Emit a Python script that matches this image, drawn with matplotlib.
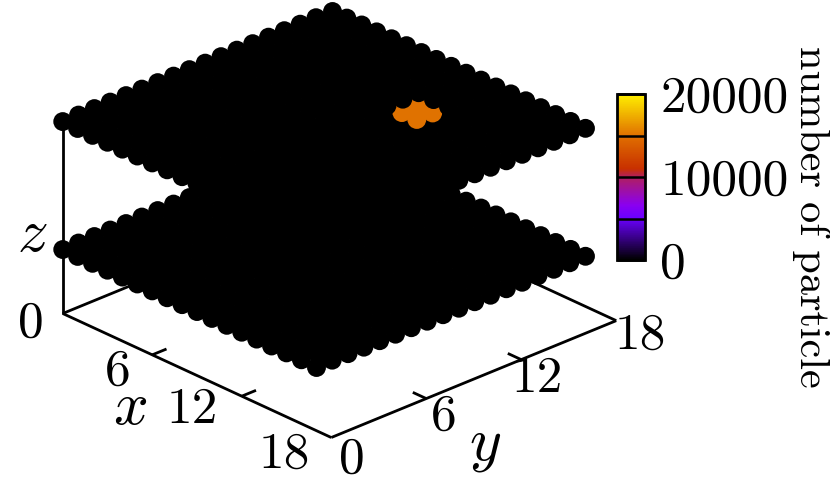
import numpy as np
import matplotlib
matplotlib.use('Agg')
import matplotlib.pyplot as plt
from matplotlib.cm import ScalarMappable
from matplotlib.colors import LinearSegmentedColormap, Normalize

plt.rcParams['font.family'] = ['cmr10', 'DejaVu Sans']
plt.rcParams['mathtext.fontset'] = 'cm'
plt.rcParams['axes.formatter.use_mathtext'] = True

# lattice and particle counts
n_sites = 18
layers_z = [1, 3]
hot_x = [10, 10, 11, 11]
hot_y = [12, 13, 12, 13]
hot_counts = [15000, 15000, 15000, 15000]

axis_ticks = [6, 12]
x_labels = ['0', '6', '12', '18']
y_labels = ['0', '6', '12', '18']
cbar_ticks = [0, 5000, 10000, 15000, 20000]
cbar_labels = ['0', '', '10000', '', '20000']

cmap = LinearSegmentedColormap.from_list('particles', [
    (0.0, '#000000'), (0.25, '#6a00ff'), (0.33, '#8a00f0'), (0.5, '#b01f5f'),
    (0.55, '#c83000'), (0.75, '#e07000'), (1.0, '#fff000')])
norm = Normalize(0, 20000)

W, H = 830, 479
fig = plt.figure(figsize=(W / 100, H / 100), dpi=100)

size = 576
cx, cy = 331.7, 228.9
ax = fig.add_axes([(cx - size / 2) / W, 1 - (cy + size / 2) / H, size / W, size / H],
                  projection='3d', proj_type='ortho', computed_zorder=False)
ax.set_xlim(0, 18)
ax.set_ylim(0, 18)
ax.set_zlim(0, 3)
ax.set_box_aspect((18, 18, 9.8))
ax.view_init(elev=25.8, azim=-43.3)
ax.set_axis_off()
ax.patch.set_alpha(0)

# axes box
line = dict(color='k', lw=2, zorder=1, solid_capstyle='butt')
ax.plot([0, 18], [0, 0], [0, 0], **line)
ax.plot([18, 18], [0, 18], [0, 0], **line)
ax.plot([0, 0], [0, 18], [0, 0], **line)
ax.plot([0, 18], [18, 18], [0, 0], **line)
ax.plot([0, 0], [0, 0], [0, 3], **line)
for t in axis_ticks:
    ax.plot([t, t], [0, 0.9], [0, 0], **line)
    ax.plot([18, 17.1], [t, t], [0, 0], **line)

# sites, drawn row by row from the front corner to the back
counts = np.zeros((n_sites, n_sites))
counts[hot_x, hot_y] = hot_counts
xx, yy = np.meshgrid(np.arange(n_sites), np.arange(n_sites), indexing='ij')
zorder = 2
for k, z in enumerate(layers_z):
    for d in range(n_sites - 1, -n_sites, -1):
        mask = xx - yy == d
        c = counts[mask] if k == 1 else np.zeros(mask.sum())
        ax.scatter(xx[mask], yy[mask], z, c=c, cmap=cmap, norm=norm, s=185,
                   linewidths=0, depthshade=False, zorder=zorder)
        zorder += 1

# labels, placed in pixels
def label(px, py, s, size=37):
    fig.text(px / W, 1 - py / H, s, fontsize=size, ha='center', va='center')

for s, (px, py) in zip(x_labels, [(31, 324), (118, 372), (192, 410), (284, 455)]):
    label(px, py, s)
for s, (px, py) in zip(y_labels[1:], [(444, 417), (537, 379), (640, 336)]):
    label(px, py, s)
label(352, 460, y_labels[0])
label(130, 408, '$x$', 44)
label(485, 446, '$y$', 44)
label(32, 235, '$z$', 44)

# colour bar
cax = fig.add_axes([617 / W, 1 - 260 / H, 28 / W, 166 / H])
cbar = fig.colorbar(ScalarMappable(norm=norm, cmap=cmap), cax=cax, ticks=cbar_ticks)
cbar.ax.set_yticklabels(cbar_labels)
cbar.ax.tick_params(direction='in', length=20, width=1.8, labelsize=37, pad=11)
cbar.outline.set_linewidth(2)
cbar.set_label('number of particle', rotation=270, fontsize=30.5)
cbar.ax.yaxis.set_label_coords(7.62, 0.262)

fig.savefig('out.png', dpi=100)
